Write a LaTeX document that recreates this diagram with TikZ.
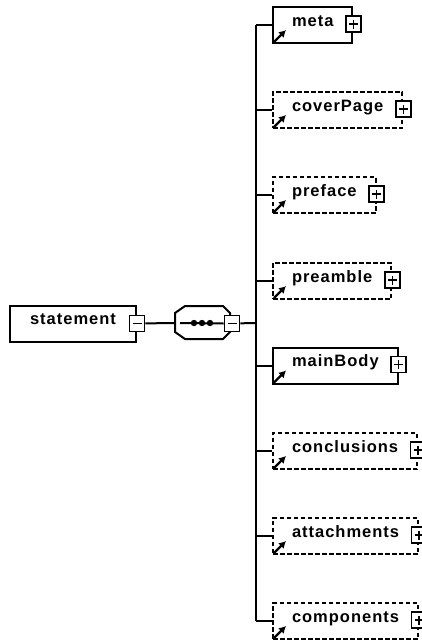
\documentclass[tikz,border=0pt]{standalone}
\usepackage{fontspec}
\newfontfamily\xsdfont{Liberation Sans}[LetterSpace=6]
\newcommand\lblfont{\xsdfont\bfseries\fontsize{16.5}{19}\selectfont}
\usetikzlibrary{arrows.meta}
\tikzset{
  wire/.style={line width=2pt},
  elem/.style={draw, line width=2pt, fill=white, anchor=west, minimum height=36pt,
    inner xsep=19pt, inner ysep=0pt, text height=12pt, text depth=10pt, font=\lblfont},
  optelem/.style={elem, dash pattern=on 4.5pt off 2.5pt},
  pmbox/.style={draw, line width=1.6pt, fill=white, minimum width=15pt, minimum height=16pt, inner sep=0pt},
  minus/.style={pmbox, path picture={\draw[line width=1.5pt]
    ([xshift=-4.5pt]path picture bounding box.center) -- ([xshift=4.5pt]path picture bounding box.center);}},
  plus/.style={pmbox, path picture={\draw[line width=1.5pt]
    ([xshift=-4.5pt]path picture bounding box.center) -- ([xshift=4.5pt]path picture bounding box.center)
    ([yshift=-4.5pt]path picture bounding box.center) -- ([yshift=4.5pt]path picture bounding box.center);}},
  ref/.style={line width=2.2pt, -{Latex[length=7pt,width=8pt]}},
}
\begin{document}
\begin{tikzpicture}[x=1pt, y=-1pt]
\useasboundingbox (0,0) rectangle (422,640);
\node[elem, minimum width=126pt] (statement) at (9,323.5) {statement};
\node[minus] (statement-m) at (statement.east) {};
\draw[line width=2pt, fill=white] (175,313)--(185,306)--(223,306)--(230,313)--(230,332)--(223,339)--(185,339)--(175,332)--cycle;
\coordinate (seq-in) at (175,323);
\coordinate (dots-in) at (180,323);
\node[minus] (seq-m) at (232,323.5) {};
\draw[wire] (statement-m) -- (seq-in);
\draw[wire] (dots-in) -- (seq-m.west);
\foreach \x in {194,202,210} \fill (\x,323) circle (3.2pt);
\coordinate (trunk) at (256,323);
\draw[wire] (seq-m) -- (trunk);
\foreach \name/\y/\kind in {meta/25/elem, coverPage/110/optelem, preface/195/optelem,
    preamble/281/optelem, mainBody/365.5/elem, conclusions/451/optelem,
    attachments/536/optelem, components/621/optelem} {
  \node[\kind] (\name) at (272,\y) {\name};
  \node[plus] (\name-p) at ([yshift=1pt]\name.east) {};
  \draw[ref] ([shift={(2,-2)}]\name.south west) -- ++(12,-12);
  \draw[wire] (trunk |- \name.west) -- (\name.west);
}
\draw[wire] (trunk |- meta.west) -- (trunk |- components.west);
\end{tikzpicture}
\end{document}
